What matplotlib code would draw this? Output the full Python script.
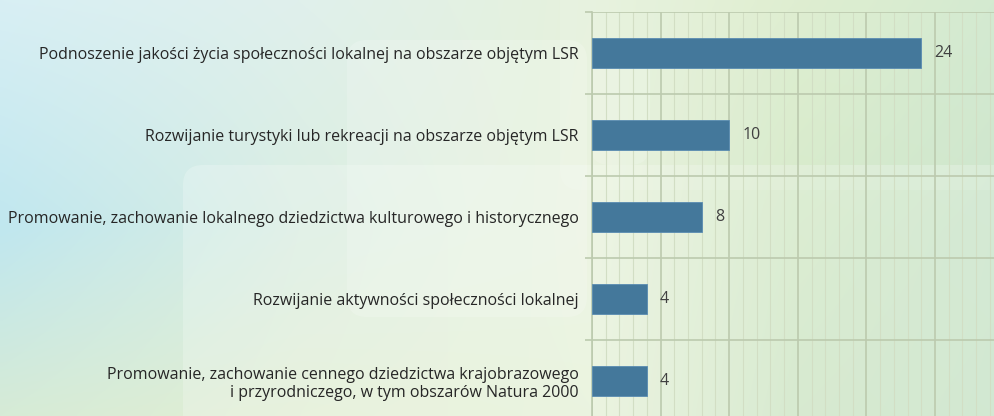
import numpy as np
import matplotlib
matplotlib.use("Agg")
import matplotlib.pyplot as plt
from matplotlib.patches import FancyBboxPatch
from matplotlib.ticker import MultipleLocator

categories = [
    "Podnoszenie jakości życia społeczności lokalnej na obszarze objętym LSR",
    "Rozwijanie turystyki lub rekreacji na obszarze objętym LSR",
    "Promowanie, zachowanie lokalnego dziedzictwa kulturowego i historycznego",
    "Rozwijanie aktywności społeczności lokalnej",
    "Promowanie, zachowanie cennego dziedzictwa krajobrazowego\ni przyrodniczego, w tym obszarów Natura 2000",
]
values = [24, 10, 8, 4, 4]

plt.rcParams['font.family'] = ['Open Sans', 'DejaVu Sans']

W, H = 995, 416
fig = plt.figure(figsize=(W / 100, H / 100), dpi=100)

# ---- background gradient ----
bg = fig.add_axes([0, 0, 1, 1])
bg.set_axis_off()
xs = np.array([0.0, 0.3, 0.6, 0.8, 1.0])
ys = np.array([0.0, 0.55, 1.0])
def hexc(h):
    h = h.lstrip('#')
    return [int(h[i:i + 2], 16) / 255 for i in (0, 2, 4)]
grid_cols = [
    ["#d8eff4", "#e0f0ec", "#e6f2dc", "#dcedcc", "#d0e8cc"],
    ["#c0e7ef", "#daeee2", "#e8f2dc", "#d2e8c6", "#c8e4c8"],
    ["#d6ebd6", "#e2efd4", "#e6f1d8", "#cde5c4", "#c6e2c6"],
]
C = np.array([[hexc(c) for c in row] for row in grid_cols])
nx, ny = 200, 100
gx = np.linspace(0, 1, nx)
gy = np.linspace(0, 1, ny)
rows = np.zeros((len(ys), nx, 3))
for r in range(len(ys)):
    for k in range(3):
        rows[r, :, k] = np.interp(gx, xs, C[r, :, k])
img = np.zeros((ny, nx, 3))
for i in range(nx):
    for k in range(3):
        img[:, i, k] = np.interp(gy, ys, rows[:, i, k])
bg.imshow(img, extent=[0, W, H, 0], aspect='auto', interpolation='bicubic')
bg.set_xlim(0, W)
bg.set_ylim(H, 0)
for (x0, y0, w, h, a) in [(183, 165, 900, 300, 0.22), (347, 40, 240, 277, 0.18),
                           (560, -20, 500, 210, 0.10), (590, 45, 60, 120, 0.15)]:
    bg.add_patch(FancyBboxPatch((x0 + 20, y0 + 20), w - 40, h - 40,
                                boxstyle="round,pad=20", fc='white', ec='none', alpha=a))

# ---- chart ----
left_px, top_px = 592, 12
px_per_unit = 13.72
xmax = 30
band = 82
ax = fig.add_axes([left_px / W, 1 - (top_px + band * len(values)) / H,
                   xmax * px_per_unit / W, band * len(values) / H])
ax.patch.set_alpha(0)
y = np.arange(len(values))
ax.barh(y, values, height=0.36, color="#44789b", edgecolor="#5a8cb2",
        linewidth=0.6, zorder=3)
ax.set_xlim(0, xmax)
ax.set_ylim(len(values) - 0.5, -0.5)

ax.xaxis.set_major_locator(MultipleLocator(5))
ax.xaxis.set_minor_locator(MultipleLocator(1))
ax.grid(axis='x', which='major', color='#bccaae', lw=1.2, zorder=1)
ax.grid(axis='x', which='minor', color='#d2dec4', lw=0.8, zorder=1)
ax.set_yticks(y)
ax.set_yticklabels(categories, fontsize=11.5, color='#262626')
ax.set_yticks(np.arange(-0.5, len(values) + 0.5, 1), minor=True)
ax.grid(axis='y', which='minor', color='#bccaae', lw=1.2, zorder=1)
ax.tick_params(axis='y', which='major', length=0, pad=9.5)
ax.tick_params(axis='y', which='minor', length=5, color='#bccaae', width=1.2)
ax.tick_params(axis='x', which='both', length=0, labelbottom=False)
for s in ['top', 'right', 'bottom']:
    ax.spines[s].set_visible(False)
ax.spines['left'].set_color('#bccaae')
ax.spines['left'].set_linewidth(1.2)

for yi, v in zip(y, values):
    ax.annotate(str(v), (v, yi), xytext=(9.5, 0), textcoords='offset points',
                va='center', ha='left', fontsize=11.5, color='#404040', zorder=4)

fig.savefig("out.png", dpi=100)
